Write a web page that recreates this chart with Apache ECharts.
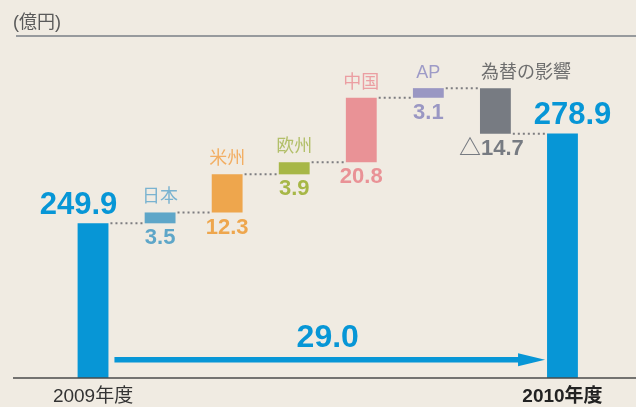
<!DOCTYPE html>
<html><head><meta charset="utf-8">
<script src="https://cdn.jsdelivr.net/npm/echarts@6/dist/echarts.min.js"></script>
<style>html,body{margin:0;padding:0;background:#f0ebe2;}#c{width:636px;height:407px;}</style>
</head><body><div id="c"></div>
<script>
const categories = ['2009年度','日本','米州','欧州','中国','AP','為替の影響','2010年度'];
const values = [249.9, 3.5, 12.3, 3.9, 20.8, 3.1, -14.7, 278.9];
const valueLabels = ['249.9','3.5','12.3','3.9','20.8','3.1','△14.7','278.9'];
const growthLabel = '29.0';
const unitLabel = '(億円)';
const yMin = 200, yMax = 300;

const barColors = ['#0796d6','#5ea6c8','#eea64d','#a7b747','#e99296','#9a97c3','#777b82','#0796d6'];
const nameColors = ['#0796d6','#7ab3d0','#f2ae63','#b2bf69','#eb9ea2','#9e9bc7','#6e6e6e','#0796d6'];
const FONT = '"Liberation Sans", Arial, "Noto Sans CJK JP", sans-serif';

// build start / end for each bar
const barData = [];
const connData = [];
let run = 0;
values.forEach((v, i) => {
  const isTotal = (i === 0 || i === values.length - 1);
  let s, e;
  if (isTotal) { s = 0; e = v; run = v; }
  else { s = run; e = run + v; run = e; }
  barData.push([i, s, e, isTotal ? 1 : 0]);
  if (i < values.length - 1) connData.push([i, run]);
});

const chart = echarts.init(document.getElementById('c'), null, {renderer: 'canvas'});
const option = {
  backgroundColor: '#f0ebe2',
  animation: false,
  grid: {left: 59.5, right: 40, top: 68, bottom: 29},
  xAxis: {
    type: 'category', data: categories,
    axisLine: {show: false}, axisTick: {show: false},
    axisLabel: {
      interval: 0, margin: 9,
      formatter: (v, i) => i === 0 ? '{a|' + v + '}' : (i === categories.length - 1 ? '{b|' + v + '}' : ''),
      rich: {
        a: {fontSize: 19, color: '#333', fontFamily: FONT},
        b: {fontSize: 19, color: '#222', fontWeight: 'bold', fontFamily: FONT}
      }
    }
  },
  yAxis: {type: 'value', min: yMin, max: yMax, show: false, splitLine: {show: false}},
  graphic: [
    {type: 'text', left: 13, top: 14, style: {text: unitLabel, fontSize: 18, fill: '#5a5a5a', fontFamily: FONT}},
    {type: 'line', shape: {x1: 16, y1: 36, x2: 636, y2: 36}, style: {stroke: '#7a7f86', lineWidth: 1.5}},
    {type: 'line', shape: {x1: 13, y1: 378, x2: 636, y2: 378}, style: {stroke: '#4a4a4a', lineWidth: 1.5}, z: 10}
  ],
  series: [
    {
      type: 'custom',
      data: connData,
      z: 1,
      renderItem: (params, api) => {
        const i = api.value(0), lvl = api.value(1);
        const w = api.size([1, 0])[0] * 0.46;
        const p0 = api.coord([i, lvl]), p1 = api.coord([i + 1, lvl]);
        return {type: 'line', shape: {x1: p0[0] + w / 2 + 2, y1: p0[1], x2: p1[0] - w / 2 - 2, y2: p1[1]},
          style: {stroke: '#7d7d80', lineWidth: 2, lineDash: [2, 3]}};
      }
    },
    {
      type: 'custom',
      data: barData,
      z: 2,
      renderItem: (params, api) => {
        const i = api.value(0), s = api.value(1), e = api.value(2), tot = api.value(3);
        const hi = Math.max(s, e), lo = Math.min(s, e);
        const w = api.size([1, 0])[0] * 0.46;
        const pt = api.coord([i, hi]), pb = api.coord([i, lo]);
        const cs = params.coordSys;
        const rect = echarts.graphic.clipRectByRect({x: pt[0] - w / 2, y: pt[1], width: w, height: pb[1] - pt[1]},
          {x: cs.x, y: cs.y, width: cs.width, height: cs.height});
        const children = [];
        if (rect) children.push({type: 'rect', shape: rect, style: {fill: barColors[i]}});
        const yTop = pt[1], yBot = Math.min(pb[1], cs.y + cs.height);
        if (tot) {
          const dx = i === 0 ? -14.5 : 10;
          children.push({type: 'text', style: {text: valueLabels[i], x: pt[0] + dx, y: yTop - 2,
            align: 'center', verticalAlign: 'bottom', fill: barColors[i], fontSize: 31, fontWeight: 'bold', fontFamily: FONT}});
        } else {
          const neg = e < s;
          children.push({type: 'text', style: {text: categories[i], x: neg ? pt[0] - w / 2 + 1 : pt[0], y: yTop - 6,
            align: neg ? 'left' : 'center', verticalAlign: 'bottom', fill: nameColors[i], fontSize: 18, fontFamily: FONT}});
          children.push({type: 'text', style: {text: valueLabels[i], x: pt[0] - (neg ? 4 : 0), y: yBot + 4,
            align: 'center', verticalAlign: 'top', fill: barColors[i], fontSize: 22, fontWeight: 'bold', fontFamily: FONT}});
        }
        return {type: 'group', children};
      }
    },
    {
      type: 'custom',
      data: [[0, categories.length - 1]],
      z: 3,
      renderItem: (params, api) => {
        const a = api.value(0), b = api.value(1);
        const w = api.size([1, 0])[0] * 0.46;
        const yv = 205.9;
        const p0 = api.coord([a, yv]), p1 = api.coord([b, yv]);
        const x0 = p0[0] + w / 2 + 6, x1 = p1[0] - w / 2 - 2, y = p0[1];
        const headL = 27, headH = 6.5, t = 2.7;
        return {type: 'group', children: [
          {type: 'polygon', shape: {points: [[x0, y - t], [x1 - headL, y - t], [x1 - headL, y - headH], [x1, y], [x1 - headL, y + headH], [x1 - headL, y + t], [x0, y + t]]},
            style: {fill: '#0796d6'}},
          {type: 'text', style: {text: growthLabel, x: (x0 + x1) / 2 - 2, y: y - 6, align: 'center', verticalAlign: 'bottom',
            fill: '#0796d6', fontSize: 32, fontWeight: 'bold', fontFamily: FONT}}
        ]};
      }
    }
  ]
};
chart.setOption(option);
</script></body></html>
